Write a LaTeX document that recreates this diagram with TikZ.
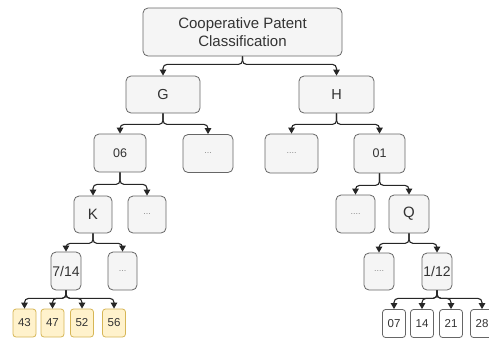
\documentclass[tikz,border=0pt]{standalone}
\usepackage{fontspec}
\setmainfont{Liberation Sans}
\usetikzlibrary{arrows.meta}
\definecolor{boxfill}{HTML}{F5F5F5}
\definecolor{boxline}{HTML}{666666}
\definecolor{leaffill}{HTML}{FFF2CC}
\definecolor{leafline}{HTML}{D6B656}
\definecolor{txt}{HTML}{333333}
\definecolor{dotcol}{HTML}{8A8A8A}
\newcommand{\fsz}[1]{\fontsize{#1}{#1}\selectfont}

\begin{document}
\begin{tikzpicture}[x=1pt, y=-1pt, >={Triangle[length=6pt,width=6.5pt]},
  cell/.style={draw=boxline, fill=boxfill, rounded corners=5pt, inner sep=0pt,
    text=txt, line width=0.8pt},
  dots/.style={cell, text=dotcol, font=\fsz{9}},
  leafA/.style={cell, draw=leafline, fill=leaffill, rounded corners=3pt,
    minimum width=23pt, minimum height=28pt, font=\fsz{11.5}},
  leafB/.style={cell, fill=white, rounded corners=3pt,
    minimum width=23pt, minimum height=28pt, font=\fsz{11.5}},
  link/.style={->, line width=1.1pt, draw=black!85, rounded corners=4pt}]
\useasboundingbox (0,0) rectangle (489,338);
% --- root ---
\node[cell, minimum width=199pt, minimum height=48pt, align=center,
  font=\fontsize{15}{18}\selectfont] (cpc) at (242.5,32)
  {Cooperative Patent\\Classification};
% --- sections ---
\node[cell, minimum width=74pt, minimum height=37pt, font=\fsz{14.5}] (G) at (163,94.5) {G};
\node[cell, minimum width=75pt, minimum height=37pt, font=\fsz{14.5}] (H) at (336.5,94.5) {H};
% --- classes ---
\node[cell, minimum width=52pt, minimum height=38pt, font=\fsz{12.5}] (n06) at (120,153) {06};
\node[dots, minimum width=50pt, minimum height=38pt] (d1) at (208,153.5) {...};
\node[dots, minimum width=53pt, minimum height=39pt] (d2) at (291.5,153.5) {....};
\node[cell, minimum width=51pt, minimum height=39pt, font=\fsz{12.5}] (n01) at (379.5,153.5) {01};
% --- subclasses ---
\node[cell, minimum width=38pt, minimum height=37pt, font=\fsz{15}] (K) at (93,214.5) {K};
\node[dots, minimum width=38pt, minimum height=37pt] (d3) at (147,214.5) {...};
\node[dots, minimum width=39pt, minimum height=38pt] (d4) at (355.5,214) {....};
\node[cell, minimum width=40pt, minimum height=38pt, font=\fsz{15}] (Q) at (409,214) {Q};
% --- groups ---
\node[cell, minimum width=30pt, minimum height=38pt, font=\fsz{14}] (g714) at (66,271) {7/14};
\node[dots, minimum width=29pt, minimum height=38pt] (d5) at (122.5,271) {...};
\node[dots, minimum width=30pt, minimum height=37pt] (d6) at (379,271.5) {....};
\node[cell, minimum width=30pt, minimum height=37pt, font=\fsz{14}] (g112) at (437,271.5) {1/12};
% --- subgroups ---
\foreach \x/\t [count=\i] in {24.5/43,52.5/47,82/52,114/56}
  {\node[leafA] (a\i) at (\x,323) {\t};}
\foreach \x/\t [count=\i] in {394/07,422/14,451/21,482/28}
  {\node[leafB] (b\i) at (\x,323.5) {\t};}
% --- links ---
\foreach \c in {G,H} {\draw[link] (cpc.south) -- ++(0,8) -| (\c.north);}
\foreach \c in {n06,d1} {\draw[link] (G.south) -- ++(0,11) -| (\c.north);}
\foreach \c in {d2,n01} {\draw[link] (H.south) -- ++(0,11) -| (\c.north);}
\foreach \c in {K,d3} {\draw[link] (n06.south) -- ++(0,12) -| (\c.north);}
\foreach \c in {d4,Q} {\draw[link] (n01.south) -- ++(0,12) -| (\c.north);}
\foreach \c in {g714,d5} {\draw[link] (K.south) -- ++(0,10) -| (\c.north);}
\foreach \c in {d6,g112} {\draw[link] (Q.south) -- ++(0,10) -| (\c.north);}
\foreach \i in {1,...,4} {\draw[link] (g714.south) -- ++(0,8) -| (a\i.north);}
\foreach \i in {1,...,4} {\draw[link] (g112.south) -- ++(0,8) -| (b\i.north);}
\end{tikzpicture}
\end{document}
